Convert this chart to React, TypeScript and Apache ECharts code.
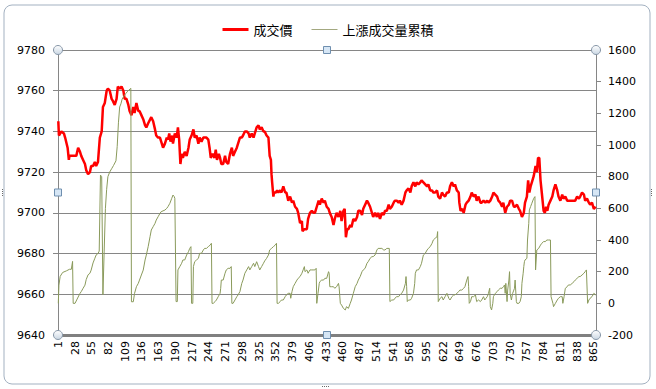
import React, { useEffect, useRef } from 'react';
import * as echarts from 'echarts';

// ---- data (category number, value) ----
const categoryCount = 868;
const categories: string[] = Array.from({ length: categoryCount }, (_, k) => String(k + 1));

const priceName = '成交價';
const volumeName = '上漲成交量累積';

const priceAxisTicks = { min: 9640, max: 9780, interval: 20 };
const volumeAxisTicks = { min: -200, max: 1600, interval: 200 };

const pricePoints: [number, number][] = [
  [1, 9745], [2, 9738], [6, 9740], [10, 9739], [12, 9737], [16, 9732], [18, 9726], [19, 9728], [22, 9728], [25, 9728],
  [27, 9728], [30, 9728], [33, 9732], [36, 9730], [38, 9728], [41, 9726], [44, 9724], [46, 9721], [49, 9719], [52, 9720],
  [54, 9723], [57, 9723], [60, 9725], [62, 9723], [65, 9725], [68, 9737], [71, 9740], [73, 9752], [76, 9754], [79, 9760],
  [81, 9761], [84, 9760], [87, 9756], [89, 9755], [92, 9753], [95, 9756], [97, 9762], [100, 9761], [103, 9762], [106, 9760],
  [108, 9756], [111, 9756], [114, 9753], [116, 9750], [119, 9748], [122, 9752], [124, 9749], [127, 9754], [130, 9750], [132, 9750],
  [135, 9748], [138, 9746], [141, 9743], [143, 9742], [146, 9744], [151, 9747], [154, 9745], [157, 9741], [159, 9738], [162, 9737],
  [165, 9737], [167, 9735], [170, 9732], [173, 9734], [176, 9737], [178, 9736], [180, 9739], [182, 9735], [185, 9738], [186, 9734],
  [189, 9739], [192, 9737], [194, 9742], [196, 9736], [198, 9724], [200, 9729], [202, 9727], [205, 9730], [208, 9728], [211, 9732],
  [213, 9736], [216, 9738], [219, 9741], [221, 9737], [224, 9738], [227, 9734], [229, 9737], [232, 9735], [235, 9737], [237, 9737],
  [240, 9737], [243, 9736], [245, 9732], [247, 9727], [250, 9729], [253, 9727], [255, 9731], [257, 9726], [260, 9729], [262, 9727],
  [264, 9724], [267, 9724], [270, 9728], [272, 9725], [275, 9724], [278, 9729], [281, 9732], [283, 9728], [286, 9730], [289, 9732],
  [291, 9734], [294, 9737], [297, 9737], [299, 9738], [302, 9740], [305, 9740], [308, 9739], [310, 9737], [313, 9739], [316, 9737],
  [318, 9739], [321, 9742], [324, 9743], [326, 9741], [329, 9742], [332, 9740], [334, 9740], [337, 9738], [340, 9737], [342, 9728],
  [344, 9726], [345, 9719], [346, 9715], [348, 9708], [349, 9710], [352, 9710], [354, 9711], [356, 9710], [359, 9711], [361, 9710],
  [364, 9713], [367, 9710], [369, 9710], [372, 9706], [375, 9708], [378, 9705], [380, 9706], [383, 9703], [386, 9702], [388, 9700],
  [391, 9695], [394, 9696], [395, 9691], [398, 9692], [402, 9692], [404, 9697], [407, 9700], [410, 9701], [413, 9700], [415, 9700],
  [418, 9703], [421, 9706], [423, 9704], [426, 9707], [429, 9705], [431, 9706], [434, 9703], [437, 9702], [439, 9700], [442, 9698],
  [445, 9694], [447, 9697], [450, 9700], [453, 9698], [456, 9701], [458, 9696], [461, 9701], [463, 9702], [465, 9688], [467, 9692],
  [469, 9692], [472, 9694], [474, 9693], [477, 9697], [480, 9696], [483, 9698], [485, 9701], [488, 9701], [491, 9699], [493, 9702],
  [496, 9704], [499, 9706], [501, 9705], [504, 9703], [507, 9700], [509, 9698], [512, 9700], [515, 9698], [517, 9700], [520, 9697],
  [523, 9700], [526, 9699], [528, 9701], [531, 9701], [534, 9704], [536, 9702], [539, 9703], [542, 9705], [544, 9706], [547, 9706],
  [550, 9705], [552, 9706], [555, 9704], [558, 9706], [561, 9710], [563, 9711], [566, 9712], [569, 9710], [571, 9713], [574, 9715],
  [577, 9713], [579, 9715], [582, 9714], [585, 9715], [587, 9716], [590, 9715], [593, 9714], [596, 9713], [598, 9714], [601, 9711],
  [604, 9711], [606, 9710], [609, 9710], [612, 9711], [614, 9708], [617, 9707], [620, 9710], [622, 9709], [625, 9708], [628, 9710],
  [631, 9710], [633, 9713], [636, 9715], [639, 9713], [641, 9714], [644, 9711], [647, 9710], [648, 9705], [650, 9701], [653, 9702],
  [655, 9700], [658, 9704], [660, 9705], [663, 9706], [666, 9708], [668, 9710], [671, 9708], [674, 9709], [676, 9706], [679, 9708],
  [682, 9705], [684, 9705], [687, 9706], [690, 9705], [693, 9706], [695, 9705], [698, 9706], [701, 9708], [703, 9710], [706, 9709],
  [709, 9708], [711, 9706], [714, 9705], [717, 9703], [719, 9705], [722, 9700], [725, 9703], [728, 9704], [730, 9706], [733, 9706],
  [736, 9703], [738, 9703], [741, 9704], [744, 9702], [746, 9701], [749, 9698], [752, 9700], [754, 9705], [757, 9708], [759, 9716],
  [761, 9710], [763, 9713], [765, 9715], [768, 9718], [771, 9723], [773, 9720], [775, 9727], [777, 9727], [779, 9716], [781, 9710],
  [784, 9701], [786, 9700], [788, 9703], [790, 9701], [792, 9704], [795, 9706], [798, 9708], [800, 9711], [803, 9714], [806, 9711],
  [808, 9708], [811, 9706], [814, 9709], [816, 9707], [819, 9708], [822, 9706], [824, 9706], [827, 9706], [830, 9706], [833, 9706],
  [835, 9706], [838, 9708], [841, 9707], [843, 9708], [846, 9710], [849, 9709], [851, 9706], [854, 9707], [857, 9705], [859, 9704],
  [862, 9705], [865, 9702], [868, 9703],
];

const volumePoints: [number, number][] = [
  [1, 0], [2, 115], [4, 170], [8, 195], [14, 205], [19, 215], [22, 215], [24, 265], [25, 0], [28, 0],
  [33, 40], [36, 63], [38, 74], [41, 95], [44, 115], [46, 150], [49, 180], [52, 190], [54, 210], [57, 255],
  [60, 285], [62, 305], [65, 315], [67, 330], [69, 810], [71, 800], [73, 55], [75, 330], [77, 600], [79, 720],
  [81, 800], [84, 830], [87, 850], [90, 870], [94, 900], [96, 990], [98, 1140], [100, 1240], [102, 1260], [104, 1290],
  [107, 1310], [110, 1326], [113, 1340], [118, 1358], [119, 10], [122, 10], [124, 63], [127, 105], [130, 126], [132, 147],
  [135, 179], [138, 210], [141, 274], [143, 305], [146, 358], [149, 421], [151, 463], [154, 484], [157, 505], [159, 526],
  [162, 547], [165, 568], [167, 579], [173, 589], [176, 600], [178, 611], [181, 632], [184, 663], [186, 684], [188, 674],
  [189, 663], [191, 11], [193, 11], [194, 211], [197, 232], [200, 253], [202, 274], [205, 274], [208, 305], [211, 326],
  [213, 347], [215, 358], [216, 0], [218, 0], [219, 232], [221, 263], [224, 274], [227, 284], [229, 316], [232, 316],
  [235, 337], [237, 347], [240, 347], [243, 358], [246, 368], [248, 379], [249, 0], [251, 0], [254, 11], [256, 21],
  [259, 42], [262, 63], [263, 95], [264, 147], [267, 147], [270, 190], [272, 211], [275, 221], [278, 221], [280, 232],
  [281, 0], [283, 0], [286, 21], [289, 42], [291, 53], [294, 74], [297, 126], [299, 147], [302, 190], [305, 211],
  [308, 232], [310, 211], [313, 232], [316, 253], [318, 232], [321, 263], [324, 232], [326, 211], [329, 232], [332, 253],
  [334, 268], [337, 284], [340, 305], [342, 337], [345, 347], [348, 358], [351, 368], [353, 379], [354, 0], [356, 0],
  [359, 11], [361, 21], [364, 21], [367, 42], [369, 53], [372, 63], [375, 63], [376, 32], [378, 74], [380, 105],
  [383, 126], [386, 147], [388, 158], [391, 169], [394, 190], [396, 211], [398, 232], [399, 200], [402, 211], [404, 190],
  [407, 211], [410, 211], [412, 211], [415, 211], [417, 221], [418, 0], [420, 63], [422, 126], [423, 137], [426, 147],
  [429, 147], [431, 158], [434, 158], [437, 200], [438, 190], [439, 105], [442, 105], [445, 105], [447, 95], [450, 105],
  [453, 126], [454, 105], [456, 0], [458, -11], [461, -32], [464, -42], [466, -21], [469, -32], [472, 0], [474, 21],
  [477, 63], [480, 105], [483, 126], [485, 147], [488, 169], [491, 200], [493, 211], [496, 221], [499, 253], [501, 263],
  [504, 284], [507, 295], [509, 295], [512, 305], [515, 337], [517, 347], [520, 347], [523, 347], [526, 337], [528, 337],
  [531, 347], [535, 347], [536, 11], [539, 21], [542, 21], [544, 32], [547, 42], [550, 42], [552, 53], [555, 63],
  [558, 84], [561, 126], [562, 169], [563, 105], [564, 11], [566, 21], [569, 21], [571, 32], [574, 63], [576, 126],
  [577, 190], [579, 211], [582, 211], [585, 232], [587, 253], [590, 305], [593, 316], [596, 337], [598, 347], [601, 358],
  [604, 379], [606, 400], [609, 411], [612, 421], [613, 453], [614, 11], [617, 32], [620, 42], [622, 21], [625, 42],
  [628, 63], [631, 32], [633, 21], [636, 42], [639, 53], [641, 53], [644, 63], [647, 74], [649, 84], [652, 84],
  [655, 95], [657, 105], [660, 147], [662, 169], [663, 105], [664, 0], [666, 11], [668, 42], [671, 42], [674, 53],
  [676, 11], [679, 21], [682, 11], [684, 21], [687, 42], [689, 21], [691, 32], [693, 42], [695, 63], [697, 95],
  [698, -21], [700, -42], [702, 0], [703, 42], [706, 63], [709, 74], [711, 84], [714, 95], [717, 95], [719, 105],
  [721, 116], [722, 63], [723, 126], [725, 11], [726, 84], [728, 147], [729, 200], [730, 63], [732, 21], [734, 63],
  [736, 84], [737, 95], [738, 147], [740, 11], [741, 0], [744, 0], [746, 11], [748, 42], [749, 126], [751, 190],
  [752, 232], [753, 263], [754, 274], [757, 284], [758, 400], [760, 505], [761, 590], [763, 611], [765, 632], [768, 663],
  [770, 674], [771, 211], [772, 211], [773, 337], [776, 347], [779, 368], [781, 379], [784, 390], [787, 390], [789, 400],
  [792, 400], [795, 400], [796, 42], [799, 0], [800, -21], [803, 0], [806, 21], [808, 32], [811, 42], [814, 42],
  [815, 0], [817, 42], [819, 95], [822, 105], [824, 116], [827, 116], [830, 126], [833, 137], [835, 147], [838, 158],
  [841, 169], [843, 169], [846, 179], [849, 190], [851, 200], [853, 211], [855, 0], [857, 21], [859, 32], [862, 42],
  [865, 63], [868, 53],
];

// ---- layout ----
const W = 656;
const H = 389;
const PL = 58;
const PR = 596;
const PT = 50;
const PB = 335;

const RED = '#FF0000';
const OLIVE = '#8A9A5B';

function circleHandle(cx: number, cy: number) {
  return {
    type: 'circle',
    shape: { cx, cy, r: 4.5 },
    style: {
      fill: new echarts.graphic.LinearGradient(0, 0, 0, 1, [
        { offset: 0, color: '#FFFFFF' },
        { offset: 1, color: '#C9D6E3' },
      ]),
      stroke: '#8797A8',
      lineWidth: 1,
    },
    z: 100,
  };
}

function squareHandle(cx: number, cy: number) {
  return {
    type: 'rect',
    shape: { x: cx - 3.5, y: cy - 3.5, width: 7, height: 7 },
    style: { fill: '#D6E6F5', stroke: '#6F8FAF', lineWidth: 1 },
    z: 100,
  };
}

function dots(x: number, y: number, vertical: boolean) {
  const items: any[] = [];
  for (let k = 0; k < 4; k++) {
    items.push({
      type: 'rect',
      shape: vertical ? { x, y: y + k * 2, width: 1, height: 1 } : { x: x + k * 2, y, width: 1, height: 1 },
      style: { fill: '#6A6A6A' },
      z: 100,
    });
  }
  return items;
}

const plainNumber = (v: number) => String(v);

function buildOption() {
  const midX = (PL + PR) / 2;
  const midY = (PT + PB) / 2;
  return {
    animation: false,
    backgroundColor: '#FFFFFF',
    textStyle: { fontFamily: 'DejaVu Sans' },
    legend: {
      top: 18,
      left: 'center',
      itemWidth: 26,
      itemHeight: 12,
      itemGap: 19,
      symbolKeepAspect: true,
      textStyle: { fontSize: 13, color: '#000000', fontFamily: 'Noto Sans CJK TC' },
      data: [
        { name: priceName, icon: 'path://M0,0L26,0L26,3L0,3Z', itemStyle: { color: RED } },
        { name: volumeName, icon: 'path://M0,0L26,0L26,1L0,1Z', itemStyle: { color: '#A3A880' } },
      ],
    },
    grid: { left: PL, right: W - PR, top: PT, bottom: H - PB, containLabel: false, outerBoundsMode: 'none' },
    xAxis: {
      type: 'category',
      data: categories,
      boundaryGap: true,
      axisLine: { show: true, onZero: false, lineStyle: { color: '#808080', width: 3 } },
      axisTick: { show: false },
      axisLabel: {
        interval: 26,
        rotate: 90,
        margin: 6,
        fontSize: 11,
        color: '#000000',
        fontFamily: 'DejaVu Sans',
      },
      splitLine: { show: false },
    },
    yAxis: [
      {
        type: 'value',
        position: 'left',
        min: priceAxisTicks.min,
        max: priceAxisTicks.max,
        interval: priceAxisTicks.interval,
        axisLine: { show: true, lineStyle: { color: '#868686', width: 1 } },
        axisTick: { show: true, length: 5, lineStyle: { color: '#868686' } },
        axisLabel: { margin: 13, fontSize: 11, color: '#000000', fontFamily: 'DejaVu Sans', formatter: plainNumber },
        splitLine: { show: true, lineStyle: { color: '#868686', width: 1 } },
      },
      {
        type: 'value',
        position: 'right',
        min: volumeAxisTicks.min,
        max: volumeAxisTicks.max,
        interval: volumeAxisTicks.interval,
        axisLine: { show: true, lineStyle: { color: '#868686', width: 1 } },
        axisTick: { show: true, length: 5, lineStyle: { color: '#868686' } },
        axisLabel: { margin: 12, fontSize: 11, color: '#000000', fontFamily: 'DejaVu Sans', formatter: plainNumber },
        splitLine: { show: false },
      },
    ],
    series: [
      {
        name: priceName,
        type: 'line',
        yAxisIndex: 0,
        symbol: 'none',
        data: pricePoints.map(([c, v]) => [c - 1, v]),
        lineStyle: { color: RED, width: 2.5 },
        itemStyle: { color: RED },
      },
      {
        name: volumeName,
        type: 'line',
        yAxisIndex: 1,
        symbol: 'none',
        data: volumePoints.map(([c, v]) => [c - 1, v]),
        lineStyle: { color: OLIVE, width: 1 },
        itemStyle: { color: OLIVE },
      },
    ],
    graphic: [
      {
        type: 'rect',
        shape: { x: 4, y: 5, width: 646, height: 379, r: 8 },
        style: { fill: 'none', stroke: '#A3B1C1', lineWidth: 1 },
        z: 90,
      },
      circleHandle(PL, PT),
      circleHandle(PR, PT),
      circleHandle(PL, PB),
      circleHandle(PR, PB),
      squareHandle(midX, PT),
      squareHandle(midX, PB),
      squareHandle(PL, midY),
      squareHandle(PR, midY),
      ...dots(2, 189, true),
      ...dots(651, 189, true),
      ...dots(322, 386, false),
    ],
  };
}

export default function App() {
  const ref = useRef<HTMLDivElement>(null);
  useEffect(() => {
    if (!ref.current) return;
    const chart = echarts.init(ref.current, null, { renderer: 'svg' });
    chart.setOption(buildOption() as any);
    return () => chart.dispose();
  }, []);
  return <div ref={ref} style={{ position: 'fixed', left: 0, top: 0, width: W, height: H }} />;
}
